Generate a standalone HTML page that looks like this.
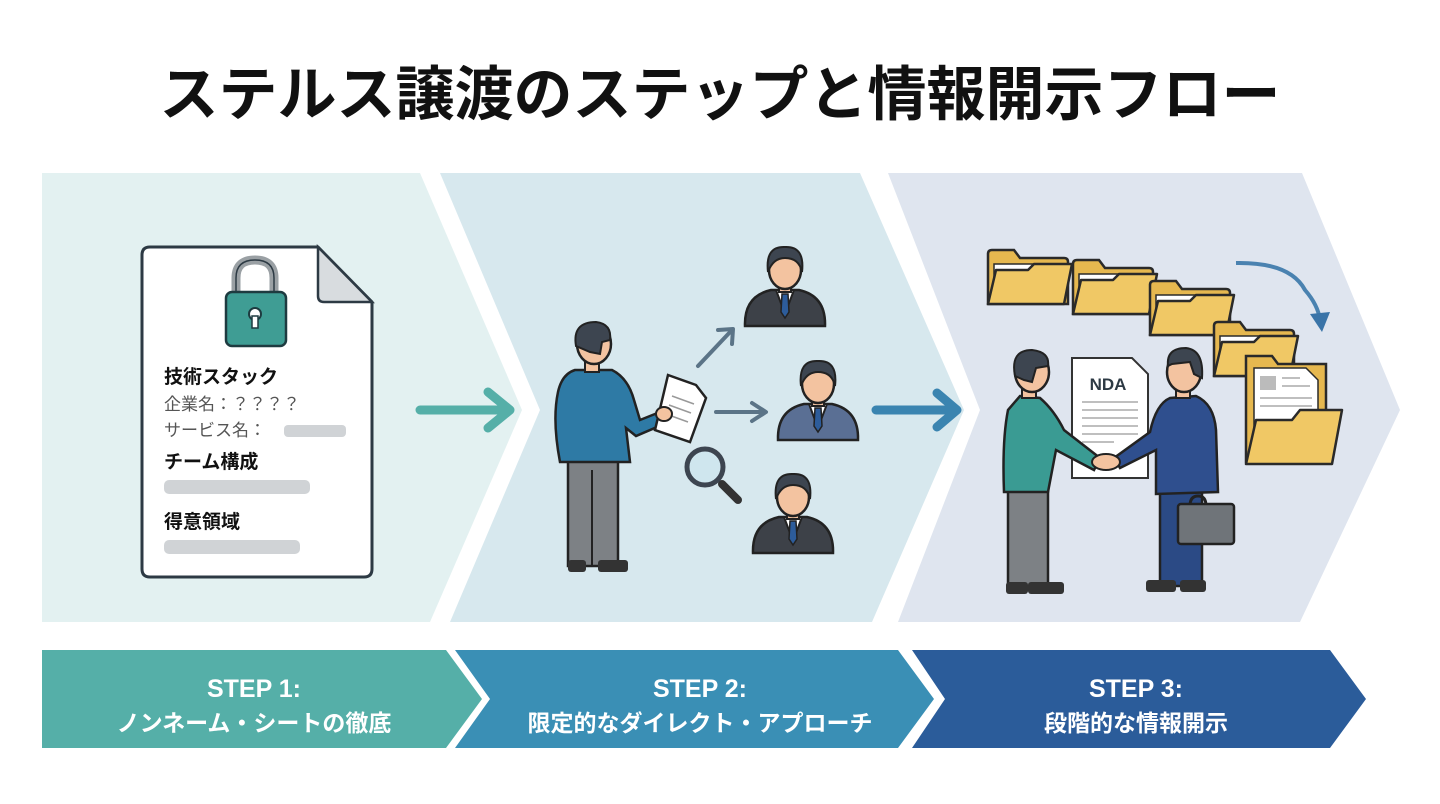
<!DOCTYPE html>
<html><head><meta charset="utf-8">
<style>
html,body{margin:0;padding:0;background:#fff;}
body{width:1440px;height:804px;overflow:hidden;position:relative;font-family:"Liberation Sans","Noto Sans CJK JP",sans-serif;}
svg{position:absolute;left:0;top:0;}
</style></head><body>
<svg width="1440" height="804" viewBox="0 0 1440 804" xmlns="http://www.w3.org/2000/svg" font-family="Liberation Sans, Noto Sans CJK JP, sans-serif">
<defs>
<g id="bust">
  <path d="M-40,56 Q-41,26 -14,20 L14,20 Q41,26 40,56 Z" fill="currentColor" stroke="#222" stroke-width="2.5"/>
  <path d="M-9,20 L0,44 L9,20 Z" fill="#fff" stroke="#222" stroke-width="2"/>
  <path d="M-3,24 L3,24 L4,42 L0,48 L-4,42 Z" fill="#2d5c9a" stroke="#222" stroke-width="1.5"/>
  <rect x="-6" y="10" width="12" height="12" fill="#f3c3a0" stroke="#222" stroke-width="2"/>
  <ellipse cx="0" cy="0" rx="16" ry="19" fill="#f3c3a0" stroke="#222" stroke-width="2.5"/>
  <path d="M-17,2 Q-20,-24 0,-23 Q20,-24 17,2 Q14,-12 0,-12 Q-12,-12 -17,2 Z" fill="#3d4550" stroke="#222" stroke-width="2"/>
</g>
<g id="folder">
  <path d="M0,8 L0,-42 Q0,-46 4,-46 L26,-46 L32,-38 L76,-38 Q80,-38 80,-34 L80,8 Z" fill="#e6b84f" stroke="#2a2a2a" stroke-width="2.5"/>
  <rect x="6" y="-32" width="66" height="30" fill="#fff" stroke="#2a2a2a" stroke-width="1.5"/>
  <path d="M0,8 L8,-26 L40,-26 L46,-32 L84,-32 L76,8 Z" fill="#f0c865" stroke="#2a2a2a" stroke-width="2.5" stroke-linejoin="round"/>
</g>
</defs>

<text x="720" y="115" text-anchor="middle" font-size="59" font-weight="700" fill="#111">ステルス譲渡のステップと情報開示フロー</text>

<polygon points="42,173 420,173 522,410 430,622 42,622" fill="#e3f1f1"/>
<polygon points="440,173 860,173 964,410 872,622 450,622 540,410" fill="#d7e8ee"/>
<polygon points="888,173 1302,173 1400,410 1300,622 898,622 980,410" fill="#dfe5ef"/>

<polygon points="42,650 446,650 482,699 446,748 42,748" fill="#55afa8"/>
<polygon points="455,650 898,650 934,699 898,748 455,748 490,699" fill="#3a8fb5"/>
<polygon points="912,650 1330,650 1366,699 1330,748 912,748 945,699" fill="#2b5c9a"/>
<g fill="#fff" font-weight="700" text-anchor="middle">
<text x="254" y="697" font-size="25">STEP 1:</text>
<text x="254" y="731" font-size="23">ノンネーム・シートの徹底</text>
<text x="700" y="697" font-size="25">STEP 2:</text>
<text x="700" y="731" font-size="23">限定的なダイレクト・アプローチ</text>
<text x="1136" y="697" font-size="25">STEP 3:</text>
<text x="1136" y="731" font-size="23">段階的な情報開示</text>
</g>

<path d="M150,247 L318,247 L372,302 L372,569 Q372,577 364,577 L150,577 Q142,577 142,569 L142,255 Q142,247 150,247 Z" fill="#fff" stroke="#2d3a44" stroke-width="3"/>
<path d="M318,247 L318,296 Q318,302 324,302 L372,302 Z" fill="#d8dcdf" stroke="#2d3a44" stroke-width="2.5"/>
<path d="M236,294 L236,278 Q236,260 255,260 Q274,260 274,278 L274,294" fill="none" stroke="#9aa0a4" stroke-width="9"/>
<path d="M236,294 L236,278 Q236,260 255,260 Q274,260 274,278 L274,294" fill="none" stroke="#2d3a44" stroke-width="1.5"/>
<rect x="226" y="292" width="60" height="54" rx="6" fill="#3f9d94" stroke="#1e3b40" stroke-width="2.5"/>
<circle cx="255" cy="314" r="6" fill="#fff" stroke="#1e3b40" stroke-width="2"/>
<rect x="252" y="316" width="6" height="12" fill="#fff" stroke="#1e3b40" stroke-width="1.5"/>
<text x="164" y="383" font-size="19" font-weight="700" fill="#111">技術スタック</text>
<text x="164" y="410" font-size="17" fill="#555">企業名：？？？？</text>
<text x="164" y="436" font-size="17" fill="#555">サービス名：</text>
<rect x="284" y="425" width="62" height="12" rx="4" fill="#c4c8cc" opacity="0.8"/>
<text x="164" y="468" font-size="19" font-weight="700" fill="#111">チーム構成</text>
<rect x="164" y="480" width="146" height="14" rx="5" fill="#c4c8cc" opacity="0.8"/>
<text x="164" y="528" font-size="19" font-weight="700" fill="#111">得意領域</text>
<rect x="164" y="540" width="136" height="14" rx="5" fill="#c4c8cc" opacity="0.8"/>

<g stroke-linecap="round" stroke-linejoin="round" fill="none">
<path d="M420,410 L508,410 M488,392 L510,410 L488,428" stroke="#55afa8" stroke-width="9"/>
<path d="M876,410 L955,410 M937,393 L957,410 L937,427" stroke="#3a84b0" stroke-width="9"/>
</g>

<rect x="568" y="456" width="50" height="110" fill="#7d8185" stroke="#222" stroke-width="2.5"/>
<line x1="592" y1="470" x2="592" y2="566" stroke="#222" stroke-width="2"/>
<rect x="568" y="560" width="18" height="12" rx="3" fill="#333"/>
<rect x="598" y="560" width="30" height="12" rx="3" fill="#333"/>
<path d="M575,370 L612,370 Q628,378 634,400 L640,420 L660,412 L664,424 L636,436 L626,428 L630,462 L560,462 Q552,420 558,392 Q562,374 575,370 Z" fill="#2e7aa5" stroke="#222" stroke-width="2.5"/>
<rect x="585" y="358" width="14" height="14" fill="#f3c3a0" stroke="#222" stroke-width="2"/>
<ellipse cx="594" cy="344" rx="17" ry="20" fill="#f3c3a0" stroke="#222" stroke-width="2.5"/>
<path d="M576,346 Q572,322 596,322 Q612,324 610,340 L602,342 L600,354 L590,352 Z" fill="#3d4550" stroke="#222" stroke-width="2"/>
<path d="M668,375 L696,385 L706,398 L690,442 L655,430 Z" fill="#fff" stroke="#222" stroke-width="2.5"/>
<g stroke="#999" stroke-width="1.5"><line x1="672" y1="396" x2="694" y2="404"/><line x1="669" y1="405" x2="691" y2="413"/><line x1="666" y1="414" x2="688" y2="422"/></g>
<ellipse cx="664" cy="414" rx="8" ry="7" fill="#f3c3a0" stroke="#222" stroke-width="2"/>
<g stroke="#5b7487" stroke-width="4" fill="none" stroke-linecap="round" stroke-linejoin="round">
<path d="M698,366 L732,330 M718,330 L733,329 L732,344"/>
<path d="M716,412 L764,412 M752,403 L766,412 L752,421"/>
</g>
<line x1="722" y1="484" x2="738" y2="500" stroke="#333" stroke-width="8" stroke-linecap="round"/>
<circle cx="705" cy="467" r="18" fill="#cfe6ee" stroke="#3d4550" stroke-width="5"/>
<use href="#bust" x="785" y="270" color="#3d4148"/>
<use href="#bust" x="818" y="384" color="#5a6f94"/>
<use href="#bust" x="793" y="497" color="#3d4148"/>

<use href="#folder" x="988" y="296"/>
<use href="#folder" x="1073" y="306"/>
<use href="#folder" x="1150" y="327"/>
<use href="#folder" x="1214" y="368"/>
<path d="M1236,263 Q1290,262 1305,290 Q1318,305 1320,320" fill="none" stroke="#4a82b0" stroke-width="4"/>
<path d="M1310,314 L1322,332 L1330,312 Z" fill="#3a74a8"/>
<path d="M1246,462 L1246,356 L1272,356 L1278,364 L1326,364 L1326,462 Z" fill="#e6b84f" stroke="#2a2a2a" stroke-width="2.5"/>
<path d="M1254,368 L1306,368 L1318,380 L1318,440 L1254,440 Z" fill="#fff" stroke="#2a2a2a" stroke-width="1.5"/>
<rect x="1260" y="376" width="16" height="14" fill="#bbb"/>
<g stroke="#aaa" stroke-width="1.5"><line x1="1282" y1="378" x2="1300" y2="378"/><line x1="1282" y1="386" x2="1310" y2="386"/><line x1="1260" y1="398" x2="1312" y2="398"/><line x1="1260" y1="406" x2="1312" y2="406"/></g>
<path d="M1246,464 L1256,420 L1292,420 L1300,410 L1342,410 L1332,464 Z" fill="#f0c865" stroke="#2a2a2a" stroke-width="2.5" stroke-linejoin="round"/>
<path d="M1072,358 L1132,358 L1148,374 L1148,478 L1072,478 Z" fill="#fff" stroke="#333" stroke-width="2"/>
<text x="1108" y="390" text-anchor="middle" font-size="17" font-weight="700" fill="#2d3a44">NDA</text>
<g stroke="#aaa" stroke-width="1.5"><line x1="1082" y1="402" x2="1138" y2="402"/><line x1="1082" y1="410" x2="1138" y2="410"/><line x1="1082" y1="418" x2="1138" y2="418"/><line x1="1082" y1="426" x2="1138" y2="426"/><line x1="1082" y1="434" x2="1138" y2="434"/><line x1="1082" y1="442" x2="1114" y2="442"/></g>
<rect x="1008" y="488" width="40" height="100" fill="#7d8185" stroke="#222" stroke-width="2.5"/>
<rect x="1006" y="582" width="22" height="12" rx="3" fill="#333"/><rect x="1028" y="582" width="36" height="12" rx="3" fill="#333"/>
<path d="M1020,396 L1040,398 Q1054,410 1064,430 L1100,458 L1094,470 L1056,450 L1048,492 L1004,492 Q1002,440 1008,410 Z" fill="#3a9b93" stroke="#222" stroke-width="2.5"/>
<rect x="1022" y="382" width="14" height="16" fill="#f3c3a0" stroke="#222" stroke-width="2"/>
<ellipse cx="1032" cy="372" rx="17" ry="20" fill="#f3c3a0" stroke="#222" stroke-width="2.5"/>
<path d="M1015,376 Q1010,350 1032,350 Q1050,352 1048,366 L1036,368 L1032,382 L1024,380 Z" fill="#3d4550" stroke="#222" stroke-width="2"/>
<rect x="1160" y="490" width="42" height="96" fill="#2b4a85" stroke="#222" stroke-width="2.5"/>
<rect x="1146" y="580" width="30" height="12" rx="3" fill="#333"/><rect x="1180" y="580" width="26" height="12" rx="3" fill="#333"/>
<path d="M1170,398 L1196,396 Q1214,404 1216,430 L1218,492 L1156,494 L1156,450 L1120,468 L1114,458 L1150,432 Q1156,404 1170,398 Z" fill="#2f4f8e" stroke="#222" stroke-width="2.5"/>
<rect x="1176" y="382" width="14" height="16" fill="#f3c3a0" stroke="#222" stroke-width="2"/>
<ellipse cx="1184" cy="372" rx="17" ry="20" fill="#f3c3a0" stroke="#222" stroke-width="2.5"/>
<path d="M1168,366 Q1166,348 1186,348 Q1204,350 1202,378 L1194,374 L1190,362 L1172,364 Z" fill="#3d4550" stroke="#222" stroke-width="2"/>
<ellipse cx="1106" cy="462" rx="14" ry="8" fill="#f3c3a0" stroke="#222" stroke-width="2"/>
<path d="M1190,506 Q1190,496 1198,496 Q1206,496 1206,506" fill="none" stroke="#222" stroke-width="3"/>
<rect x="1178" y="504" width="56" height="40" rx="3" fill="#6f7479" stroke="#222" stroke-width="2.5"/>
</svg>
</body></html>
